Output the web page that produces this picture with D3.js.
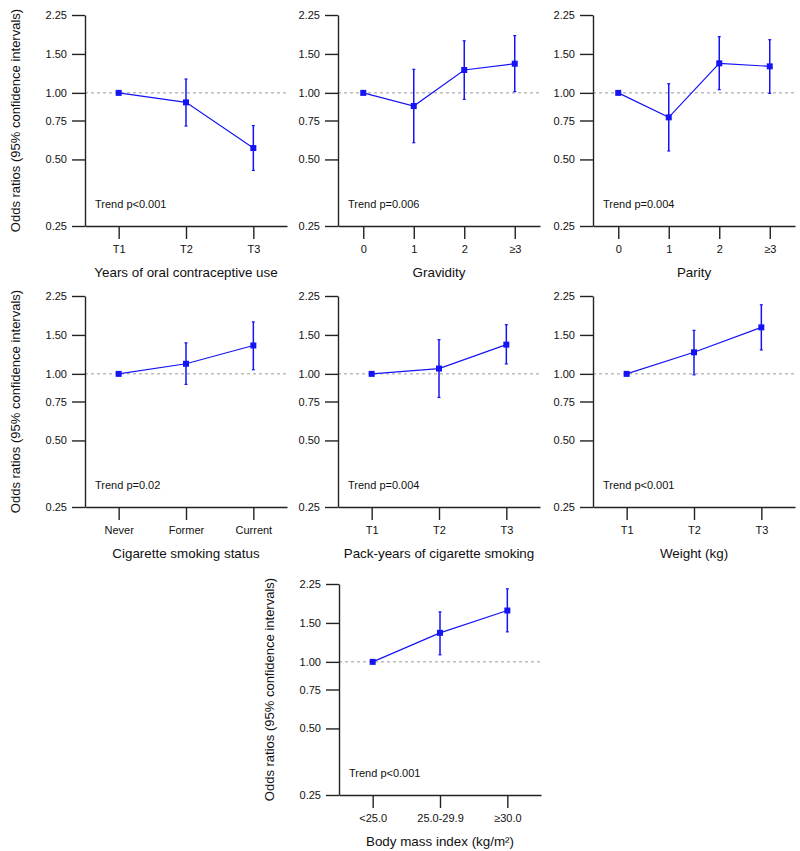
<!DOCTYPE html>
<html>
<head>
<meta charset="utf-8">
<script src="https://cdn.jsdelivr.net/npm/d3@7"></script>
<style>
  html, body { margin: 0; padding: 0; background: #fff; }
  svg { display: block; font-family: "Liberation Sans", Arial, sans-serif; }
</style>
</head>
<body>
<svg id="chart" width="800" height="851"></svg>
<script>
// ---- Data ----
const yTicks = [0.25, 0.50, 0.75, 1.00, 1.50, 2.25];

const ocCats = ["T1", "T2", "T3"];
const ocOR = [1.00, 0.906, 0.563];
const ocLo = [null, 0.708, 0.446];
const ocHi = [null, 1.155, 0.711];

const gravCats = ["0", "1", "2", "≥3"];
const gravOR = [1.00, 0.872, 1.269, 1.355];
const gravLo = [null, 0.595, 0.935, 1.013];
const gravHi = [null, 1.278, 1.720, 1.815];

const parCats = ["0", "1", "2", "≥3"];
const parOR = [1.00, 0.775, 1.360, 1.318];
const parLo = [null, 0.546, 1.034, 0.995];
const parHi = [null, 1.100, 1.796, 1.740];

const smkCats = ["Never", "Former", "Current"];
const smkOR = [1.00, 1.111, 1.344];
const smkLo = [null, 0.896, 1.044];
const smkHi = [null, 1.381, 1.718];

const pyCats = ["T1", "T2", "T3"];
const pyOR = [1.00, 1.057, 1.356];
const pyLo = [null, 0.782, 1.109];
const pyHi = [null, 1.428, 1.669];

const wtCats = ["T1", "T2", "T3"];
const wtOR = [1.00, 1.252, 1.623];
const wtLo = [null, 0.990, 1.283];
const wtHi = [null, 1.573, 2.054];

const bmiCats = ["<25.0", "25.0-29.9", "≥30.0"];
const bmiOR = [1.00, 1.353, 1.707];
const bmiLo = [null, 1.076, 1.367];
const bmiHi = [null, 1.683, 2.140];

const titles = ["Years of oral contraceptive use", "Gravidity", "Parity",
  "Cigarette smoking status", "Pack-years of cigarette smoking", "Weight (kg)",
  "Body mass index (kg/m²)"];
const trends = ["Trend p<0.001", "Trend p=0.006", "Trend p=0.004",
  "Trend p=0.02", "Trend p=0.004", "Trend p<0.001", "Trend p<0.001"];
const yTitle = "Odds ratios (95% confidence intervals)";

// ---- Layout ----
const panels = [
  { cats: ocCats, or: ocOR, lo: ocLo, hi: ocHi, left: 85, top: 15, yLabel: true },
  { cats: gravCats, or: gravOR, lo: gravLo, hi: gravHi, left: 338, top: 15 },
  { cats: parCats, or: parOR, lo: parLo, hi: parHi, left: 593, top: 15 },
  { cats: smkCats, or: smkOR, lo: smkLo, hi: smkHi, left: 85, top: 296, yLabel: true },
  { cats: pyCats, or: pyOR, lo: pyLo, hi: pyHi, left: 338, top: 296 },
  { cats: wtCats, or: wtOR, lo: wtLo, hi: wtHi, left: 593, top: 296 },
  { cats: bmiCats, or: bmiOR, lo: bmiLo, hi: bmiHi, left: 339, top: 584, yLabel: true }
];
const W = 202, H = 211;
const blue = "#1414f5";
const axisColor = "#222";

const svg = d3.select("#chart");

panels.forEach((p, i) => {
  const g = svg.append("g").attr("transform", `translate(${p.left},${p.top})`);
  const x = d3.scalePoint().domain(p.cats).range([0, W]).padding(0.5);
  const y = d3.scaleLog().domain([0.25, 2.25]).range([H, 0]);

  // reference line at 1
  g.append("line")
    .attr("x1", 0).attr("x2", W)
    .attr("y1", y(1)).attr("y2", y(1))
    .attr("stroke", "#9a9a9a").attr("stroke-width", 1)
    .attr("stroke-dasharray", "3,3");

  // axes
  const yAxis = d3.axisLeft(y).tickValues(yTicks)
    .tickFormat(d3.format(".2f")).tickSize(13).tickSizeOuter(0).tickPadding(5);
  const xAxis = d3.axisBottom(x).tickSize(13).tickSizeOuter(0).tickPadding(6);

  const ya = g.append("g").call(yAxis);
  const xa = g.append("g").attr("transform", `translate(0,${H})`).call(xAxis);
  [ya, xa].forEach(a => {
    a.select(".domain").attr("stroke", axisColor).attr("stroke-width", 1.4);
    a.selectAll(".tick line").attr("stroke", axisColor).attr("stroke-width", 1.4);
    a.selectAll(".tick text").attr("fill", "#111").attr("font-size", 11)
      .attr("font-family", "Liberation Sans, Arial, sans-serif");
  });

  const data = p.cats.map((c, k) => ({ c, or: p.or[k], lo: p.lo[k], hi: p.hi[k] }));

  // connecting line
  g.append("path")
    .datum(data)
    .attr("fill", "none").attr("stroke", blue).attr("stroke-width", 1.2)
    .attr("d", d3.line().x(d => x(d.c)).y(d => y(d.or)));

  // error bars
  const ci = data.filter(d => d.lo != null);
  g.selectAll(".eb").data(ci).enter().append("line")
    .attr("x1", d => x(d.c)).attr("x2", d => x(d.c))
    .attr("y1", d => y(d.lo)).attr("y2", d => y(d.hi))
    .attr("stroke", blue).attr("stroke-width", 1.5);
  ["lo", "hi"].forEach(k => {
    g.selectAll(".cap" + k).data(ci).enter().append("line")
      .attr("x1", d => x(d.c) - 1.5).attr("x2", d => x(d.c) + 1.5)
      .attr("y1", d => y(d[k])).attr("y2", d => y(d[k]))
      .attr("stroke", blue).attr("stroke-width", 1.2);
  });

  // squares
  g.selectAll(".pt").data(data).enter().append("rect")
    .attr("x", d => x(d.c) - 3).attr("y", d => y(d.or) - 3)
    .attr("width", 6).attr("height", 6)
    .attr("fill", blue);

  // trend text
  g.append("text")
    .attr("x", 10).attr("y", H - 18)
    .attr("font-size", 11).attr("fill", "#111")
    .text(trends[i]);

  // x title
  g.append("text")
    .attr("x", W / 2).attr("y", H + 51)
    .attr("text-anchor", "middle")
    .attr("font-size", 13.4).attr("fill", "#111")
    .text(titles[i]);

  // y title
  if (p.yLabel) {
    g.append("text")
      .attr("transform", `translate(-70,${H / 2}) rotate(-90)`)
      .attr("text-anchor", "middle").attr("dy", "0.35em")
      .attr("font-size", 13).attr("fill", "#111")
      .text(yTitle);
  }
});
</script>
</body>
</html>
